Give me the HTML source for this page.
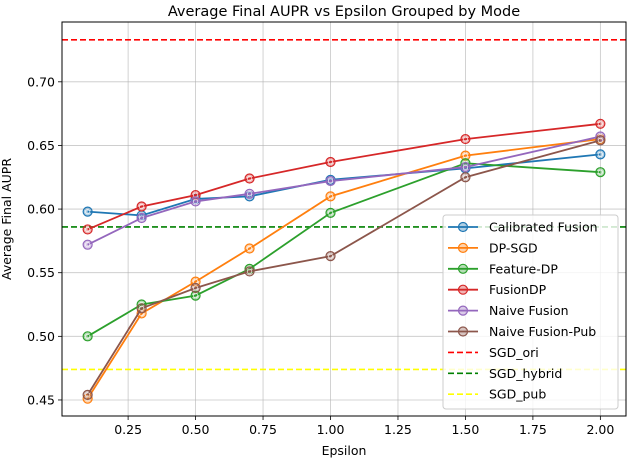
<!DOCTYPE html>
<html><head><meta charset="utf-8"><style>body{margin:0;background:#fff}svg{font-family:"DejaVu Sans","Liberation Sans",sans-serif}</style></head>
<body>
<svg id="c" width="628" height="460"></svg>
<script>
const epsilons=[0.1,0.3,0.5,0.7,1.0,1.5,2.0];
const seriesNames=["Calibrated Fusion","DP-SGD","Feature-DP","FusionDP","Naive Fusion","Naive Fusion-Pub"];
const calibrated=[0.598,0.595,0.608,0.610,0.623,0.632,0.643];
const dpsgd=[0.451,0.518,0.543,0.569,0.610,0.642,0.655];
const featuredp=[0.500,0.525,0.532,0.553,0.597,0.636,0.629];
const fusiondp=[0.584,0.602,0.611,0.624,0.637,0.655,0.667];
const naive=[0.572,0.593,0.606,0.612,0.622,0.633,0.657];
const naivepub=[0.454,0.522,0.538,0.551,0.563,0.625,0.654];
const baselineNames=["SGD_ori","SGD_hybrid","SGD_pub"];
const baselineValues=[0.733,0.586,0.474];
const xTicks=[0.25,0.5,0.75,1.0,1.25,1.5,1.75,2.0];
const yTicks=[0.45,0.5,0.55,0.6,0.65,0.7];
const colors=["#1f77b4","#ff7f0e","#2ca02c","#d62728","#9467bd","#8c564b"];
const bcolors=["#ff0000","#008000","#ffff00"];
const L=62,R=626,T=22,B=416,xmin=0.005,xmax=2.095,ymin=0.4374,ymax=0.747;
const X=v=>L+(v-xmin)/(xmax-xmin)*(R-L), Y=v=>B-(v-ymin)/(ymax-ymin)*(B-T);
const svg=document.getElementById('c');const NS="http://www.w3.org/2000/svg";
function mk(t,a,p){const e=document.createElementNS(NS,t);for(const k in a)e.setAttribute(k,a[k]);(p||svg).appendChild(e);return e;}
const t=mk('text',{x:(L+R)/2,y:16,'text-anchor':'middle','font-size':14.5});t.textContent="Average Final AUPR vs Epsilon Grouped by Mode";

xTicks.forEach(v=>{const g=mk('line',{x1:X(v),x2:X(v),y1:T,y2:B,stroke:'#b0b0b0','stroke-width':0.8,opacity:0.7});

mk('line',{x1:X(v),x2:X(v),y1:B,y2:B+4,stroke:'#000','stroke-width':0.8});
const l=mk('text',{x:X(v),y:B+18,'text-anchor':'middle','font-size':12.5});l.textContent=v.toFixed(2);
});
yTicks.forEach(v=>{const g=mk('line',{x1:L,x2:R,y1:Y(v),y2:Y(v),stroke:'#b0b0b0','stroke-width':0.8,opacity:0.7});

mk('line',{x1:L-4,x2:L,y1:Y(v),y2:Y(v),stroke:'#000','stroke-width':0.8});
const l=mk('text',{x:L-7,y:Y(v)+4.5,'text-anchor':'end','font-size':12.5});l.textContent=v.toFixed(2);
});
baselineValues.forEach((v,i)=>{const l=mk('line',{x1:L,x2:R,y1:Y(v),y2:Y(v),stroke:bcolors[i],'stroke-width':1.6,'stroke-dasharray':'6,3'});
});
const all=[calibrated,dpsgd,featuredp,fusiondp,naive,naivepub];
all.forEach((s,i)=>{const g=mk('g',{});
mk('polyline',{points:s.map((v,j)=>X(epsilons[j])+','+Y(v)).join(' '),fill:'none',stroke:colors[i],'stroke-width':1.8},g);
s.forEach((v,j)=>{const c=mk('circle',{cx:X(epsilons[j]),cy:Y(v),r:4.5,fill:colors[i],'fill-opacity':0.35,stroke:colors[i],'stroke-width':1.2},g);

mk('circle',{cx:X(epsilons[j]),cy:Y(v),r:2.2,fill:'none',stroke:'#fff','stroke-width':0.8,opacity:0.8},g);});});
mk('rect',{x:L,y:T,width:R-L,height:B-T,fill:'none',stroke:'#000','stroke-width':1});
const xl=mk('text',{x:(L+R)/2,y:455,'text-anchor':'middle','font-size':12.5});xl.textContent="Epsilon";

const yl=mk('text',{x:0,y:0,'text-anchor':'middle','font-size':12.5,transform:'translate(11,'+((T+B)/2)+') rotate(-90)'});yl.textContent="Average Final AUPR";

const lg=mk('g',{});
mk('rect',{x:443,y:215,width:175,height:194,rx:3,fill:'#fff','fill-opacity':0.8,stroke:'#ccc'},lg);
const names=seriesNames.concat(baselineNames),cols=colors.concat(bcolors);
names.forEach((n,i)=>{const y=227+i*20.9;const e=mk('g',{},lg);
if(i<6){mk('line',{x1:448,x2:478,y1:y,y2:y,stroke:cols[i],'stroke-width':1.8},e);mk('circle',{cx:463,cy:y,r:4.5,fill:cols[i],'fill-opacity':0.35,stroke:cols[i],'stroke-width':1.2},e);}
else mk('line',{x1:448,x2:478,y1:y,y2:y,stroke:cols[i],'stroke-width':1.6,'stroke-dasharray':'6,3'},e);
const tx=mk('text',{x:489,y:y+4.5,'font-size':12.5},e);tx.textContent=n;});
</script>
</body></html>
